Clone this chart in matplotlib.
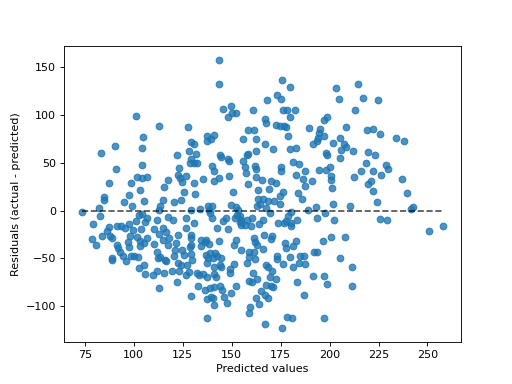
import matplotlib
matplotlib.use("Agg")
import matplotlib.pyplot as plt
import numpy as np

predicted = [
    101.2, 112.8, 104.7,
    143.5, 143.5, 145.6, 149.5, 148.1, 150.4, 152.4, 160.9, 127.7, 158.3, 161.4, 137.4, 141.0, 139.6, 137.6, 155.8, 162.4, 129.1, 130.8,
    175.7, 179.7, 168.0, 173.1, 175.2, 176.2, 178.4, 182.3, 179.7, 166.8, 167.3, 172.4, 174.8, 176.5, 177.9, 178.9, 189.4, 194.9, 194.5,
    197.1, 198.6, 194.0, 197.1, 193.5, 191.5, 205.3, 208.3, 202.0, 207.5, 203.2, 204.7, 214.4, 217.3, 212.9, 218.9, 166.8,
    224.6, 222.4, 225.7, 233.8, 237.8,
    90.5, 83.2, 104.1, 90.8, 104.1, 101.5, 104.2, 106.8, 87.4, 98.5, 103.1, 84.7, 84.7, 97.6, 95.1, 105.3, 99.0, 82.3, 73.6, 82.8,
    113.4, 112.9, 114.9, 102.6, 104.2, 106.8, 111.9, 106.0, 79.2, 101.2, 97.6, 93.7, 91.7, 87.4, 86.1, 95.4, 99.6, 103.9, 110.1,
    112.8, 114.9, 84.0, 87.8, 89.1, 78.7, 98.3, 101.9, 97.3, 103.1, 107.0,
    122.1, 128.2, 131.6, 129.4, 128.9, 130.8, 132.5, 143.9, 144.4, 148.1, 148.5, 158.3, 157.8, 162.6, 155.8, 156.6, 161.7, 162.6,
    157.5, 123.1, 139.9, 140.8, 122.6, 123.8, 126.5, 124.8, 130.8, 135.4, 141.0, 143.5, 148.6, 117.5, 115.3, 158.3, 162.6, 165.6,
    163.4, 125.7, 131.1, 150.7, 120.4, 124.0, 163.4, 166.0, 164.3, 163.1, 149.5, 152.4, 137.9, 139.9, 133.7, 129.4, 138.4, 139.1,
    139.9, 145.6, 146.9, 153.2, 152.7, 154.1, 151.5, 154.9, 157.8, 160.4, 157.0, 154.9, 154.1, 159.7, 163.9, 166.0, 117.5, 120.1,
    126.9, 130.8, 126.5, 142.5, 148.1, 116.7, 118.0, 122.6, 129.4, 129.4, 134.5, 137.1, 136.2, 143.5, 152.0, 161.2, 166.3, 161.7, 114.9,
    171.1, 179.6, 183.0, 208.2, 206.0, 211.9, 198.3, 198.8, 205.1, 181.3, 184.3, 175.0, 175.0, 183.0, 187.6, 194.5, 198.3, 200.4,
    200.5, 200.9, 201.4, 186.4, 191.0, 187.6, 212.4, 169.9, 172.8, 169.0, 176.2, 174.5, 183.8, 186.1, 168.5, 171.4, 174.8, 167.3,
    169.4, 180.5, 178.7, 177.9, 180.1, 180.5, 183.3, 173.6, 176.7, 188.9, 193.2, 193.5, 197.8, 202.0, 202.2, 210.2, 170.8, 170.3,
    177.0, 183.0, 196.6, 200.5, 207.8,
    219.5, 223.0, 218.4, 216.2, 222.1, 228.6, 229.7, 226.2, 236.9, 220.9, 219.5, 222.1, 239.4, 224.1, 241.7, 242.5, 225.5, 229.2,
    251.0, 257.8,
    80.6, 91.2, 92.0, 92.9, 94.5, 97.6, 98.5, 100.0, 102.2, 103.1, 105.1, 110.4, 111.9, 112.4, 113.6, 115.8, 88.9, 88.9, 96.1, 105.3,
    102.7, 105.8, 109.8, 111.9, 115.3, 112.9,
    117.5, 121.8, 128.6, 129.4, 134.5, 138.4, 151.0, 162.9, 120.9, 124.8, 125.7, 129.1, 120.4, 116.3, 122.6, 127.2, 129.9, 124.3,
    137.1, 138.8, 141.3, 142.5, 137.9, 140.5, 144.7, 137.4, 143.9, 141.0, 144.7, 154.9, 158.7, 161.4, 158.7, 161.7, 158.0, 151.0,
    149.3, 149.0, 166.0, 167.7, 119.7, 123.1, 126.5, 128.2, 132.3, 133.3, 135.4, 137.6, 141.0, 141.8, 122.1, 132.8, 136.2, 138.8,
    140.8, 143.9, 145.3, 139.6, 140.5, 137.4, 146.1, 149.5, 147.6, 141.0, 129.2, 152.0, 158.8, 160.6, 162.9, 160.9, 164.8, 162.2,
    163.9, 159.2, 158.8, 137.4, 167.1,
    177.9, 181.3, 173.1, 173.1, 179.6, 176.2, 184.7, 186.9, 184.3, 187.6, 181.3, 192.3, 193.5, 205.1, 211.4, 168.5, 170.8, 169.4,
    172.4, 167.7, 170.3, 171.1, 183.3, 191.5, 197.1, 198.6, 211.4, 166.8, 168.5, 186.9, 178.2, 180.8, 197.1, 175.7,
]

residuals = [
    99.3, 88.8, 76.5,
    158.0, 132.8, 106.6, 109.0, 98.2, 101.7, 101.7, 104.8, 87.0, 83.9, 83.9, 77.6, 78.6, 74.4, 72.6, 74.4, 74.4, 72.0, 69.9,
    136.3, 129.7, 115.3, 120.5, 117.1, 104.8, 105.6, 105.6, 97.5, 95.4, 91.9, 89.8, 88.8, 88.8, 87.7, 78.3, 85.9, 84.9, 81.4,
    95.1, 97.8, 75.8, 78.3, 73.1, 69.2, 75.8, 87.0, 70.5, 69.2, 128.6, 117.1, 132.1, 118.1, 104.8, 83.9, 69.2,
    116.0, 85.6, 80.4, 76.2, 72.6,
    68.1, 60.5, 65.7, 43.7, 47.9, 35.6, 34.3, 35.6, 29.0, 29.0, 21.7, 14.4, 10.8, 16.8, 9.1, 10.2, 4.5, 2.8, -1.4, -5.6,
    5.2, 0.3, 11.5, -4.2, -3.9, -8.1, -10.2, -11.8, -13.9, -11.2, -13.9, -16.5, -16.5, -17.1, -21.7, -18.1, -19.9, -19.2, -19.2,
    -24.4, -18.1, -26.9, -26.9, -29.0, -29.7, -26.5, -27.6, -32.5, -32.2, -28.3,
    57.7, 62.2, 59.7, 53.5, 50.0, 50.0, 50.0, 57.7, 56.3, 53.5, 52.4, 59.7, 57.7, 62.2, 51.7, 45.8, 47.2, 43.7,
    39.5, 44.8, 47.2, 41.2, 37.7, 34.3, 35.9, 29.7, 29.0, 33.2, 31.4, 34.3, 35.9, 32.5, 24.8, 28.0, 35.3, 32.5,
    22.0, 19.2, 17.8, 19.6, 9.1, 11.5, 12.3, 12.3, 7.3, 4.5, 6.3, 3.5, 4.5, 4.5, 2.1, 1.0, 1.0, -2.4,
    -7.7, -11.2, -7.7, 1.0, -4.2, -6.0, -7.7, -9.4, -9.4, -7.7, -14.7, -14.7, -12.3, -15.7, -13.9, -9.4, -7.0, -10.2,
    -7.7, -12.9, -18.1, -18.1, -19.2, -22.7, -28.6, -25.9, -25.2, -28.6, -30.4, -30.4, -33.2, -31.4, -30.4, -29.0, -25.2, -33.2, -30.4,
    64.7, 64.7, 65.7, 66.8, 63.2, 62.2, 60.5, 58.7, 55.2, 50.6, 48.9, 45.8, 41.2, 37.7, 41.2, 42.2, 43.0, 45.8,
    35.9, 31.8, 23.8, 33.2, 30.7, 25.5, 35.3, 30.7, 29.0, 22.7, 19.6, 15.7, 18.6, 12.3, 9.7, 9.7, 7.0, 2.8,
    -2.4, -1.4, -6.0, -11.2, -12.9, -16.5, -9.4, -12.9, -12.9, 0.3, 3.9, -7.7, -2.4, 7.0, -9.4, 5.2, -26.2, -29.3,
    -33.9, -31.4, -32.2, -27.6, -27.6,
    61.5, 58.7, 50.0, 41.6, 41.9, 48.2, 43.7, 37.7, 33.2, 30.7, 28.0, 21.0, 18.6, 9.4, 2.1, 3.5, -8.4, -9.4,
    -21.0, -16.0,
    -35.6, -35.6, -39.1, -42.7, -47.2, -38.0, -46.9, -46.9, -48.5, -37.4, -33.9, -34.6, -42.7, -49.6, -48.5, -51.4, -49.6, -52.1, -53.1, -57.3,
    -60.1, -66.4, -67.1, -62.6, -65.3, -81.0,
    -35.6, -33.9, -38.0, -35.6, -37.4, -34.6, -35.6, -35.6, -40.9, -40.9, -46.1, -45.4, -47.2, -53.1, -54.8, -56.6, -52.1, -56.6,
    -46.1, -44.3, -44.3, -47.2, -49.6, -49.6, -49.6, -54.2, -56.6, -58.4, -59.0, -40.9, -42.7, -43.7, -48.5, -50.6, -54.2, -55.9,
    -61.1, -64.7, -40.1, -56.6, -63.6, -62.6, -67.1, -64.3, -64.7, -67.1, -66.4, -69.5, -66.0, -69.5, -74.7, -78.3, -82.8, -80.4,
    -80.0, -78.3, -82.8, -89.8, -90.9, -92.6, -90.5, -86.3, -96.1, -98.5, -89.1, -78.6, -73.4, -74.7, -71.6, -65.3, -83.5, -91.5,
    -97.5, -100.9, -106.6, -112.5, -118.4,
    -39.1, -36.7, -47.9, -50.6, -48.5, -55.9, -47.2, -47.2, -54.8, -55.9, -59.0, -42.7, -43.7, -49.6, -59.0, -59.0, -63.6, -68.9,
    -71.6, -77.6, -78.6, -79.3, -74.7, -68.1, -68.1, -76.8, -78.6, -88.0, -91.5, -88.0, -110.8, -112.5, -112.5, -123.0,
]

x_label = "Predicted values"
y_label = "Residuals (actual - predicted)"

fig, ax = plt.subplots(figsize=(6.4, 4.8), dpi=80)
ax.scatter(predicted, residuals, color="tab:blue", alpha=0.8)
x_min, x_max = min(predicted), max(predicted)
ax.plot([x_min, x_max], [0, 0], color="black", alpha=0.7, linestyle="--")
ax.set_xlabel(x_label)
ax.set_ylabel(y_label)
fig.savefig("out.png", dpi=80)
